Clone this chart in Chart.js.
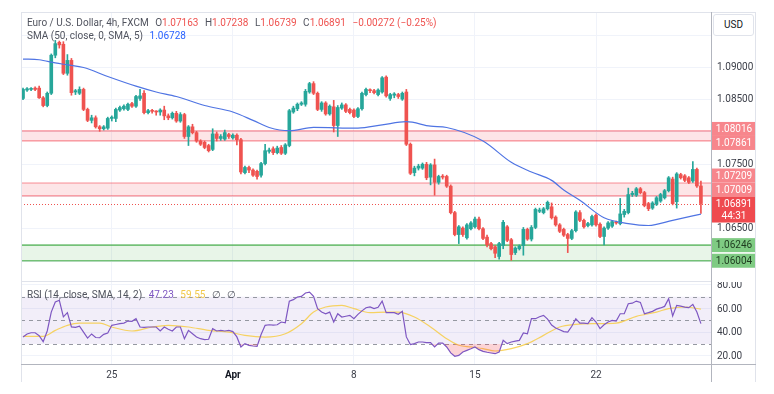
<!DOCTYPE html>
<html lang="en">
<head>
  <meta charset="UTF-8" />
  <title>EUR/USD 4h</title>
  <script src="https://cdn.jsdelivr.net/npm/chart.js"></script>
  <style>
    body {
      margin: 0;
      background: #fff;
      font-family: 'Trebuchet MS', Roboto, sans-serif;
    }
    #wrap { position: relative; width: 774px; height: 394px; overflow: hidden; }
    canvas { position: absolute; left: 0; }
    #cMain { top: 0; }
    #cRsi { top: 266px; }
    .ln { position: absolute; background: #e0e3eb; }
    .dark { background: #b2b5be; }
    .legend {
      position: absolute;
      left: 27px;
      font-size: 10px;
      line-height: 12px;
      color: #50535e;
      white-space: nowrap;
    }
    .legend span { margin-left: 4px; }
    .neg { color: #ef5350; }
    .blue { color: #2962ff; }
    .purple { color: #7e57c2; }
    .yellow { color: #f2c94c; }
    #usd {
      position: absolute;
      left: 713px; top: 14px;
      width: 39px; height: 20px;
      border: 1px solid #e0e3eb;
      border-radius: 3px;
      font-size: 10px;
      line-height: 20px;
      text-align: center;
      color: #131722;
      background: #fff;
    }
    #rsiAxis {
      position: absolute;
      left: 712px; top: 282px;
      width: 43px; height: 82px;
      overflow: hidden;
    }
    #rsiAxis div {
      position: absolute;
      left: 5px;
      font-size: 10px;
      line-height: 12px;
      color: #3b3e48;
    }
  </style>
</head>
<body>
<div id="wrap">
  <canvas id="cMain" width="774" height="281"></canvas>
  <canvas id="cRsi" width="774" height="128"></canvas>

  <!-- frame -->
  <div class="ln" style="left:21px; top:12px; width:734px; height:1px;"></div>
  <div class="ln" style="left:21px; top:12px; width:1px; height:370px;"></div>
  <div class="ln" style="left:755px; top:12px; width:1px; height:370px;"></div>
  <div class="ln" style="left:21px; top:281px; width:690px; height:1px;"></div>
  <div class="ln dark" style="left:711px; top:12px; width:1px; height:370px;"></div>
  <div class="ln dark" style="left:21px; top:364px; width:735px; height:1px;"></div>

  <div id="usd">USD</div>
  <div id="rsiAxis"></div>

  <div class="legend" style="top:17px;">Euro / U.S. Dollar, 4h, FXCM
    <span>O<b class="neg" style="font-weight:normal">1.07163</b></span>
    <span>H<b class="neg" style="font-weight:normal">1.07238</b></span>
    <span>L<b class="neg" style="font-weight:normal">1.06739</b></span>
    <span>C<b class="neg" style="font-weight:normal">1.06891</b></span>
    <span class="neg">−0.00272 (−0.25%)</span>
  </div>
  <div class="legend" style="top:30px;">SMA (50, close, 0, SMA, 5) <span class="blue">1.06728</span></div>
  <div class="legend" style="top:289px;">RSI (14, close, SMA, 14, 2) <span class="purple">47.23</span> <span class="yellow">59.55</span> <span>∅</span> <span>∅</span></div>
</div>

<script>
  // ---- data (EUR/USD 4h candles) ----
  const opens = [
    1.0852,1.0865,1.0866,1.0868,1.0868,1.0853,1.0841,1.0860,1.0919,1.0939,
    1.0936,1.0891,1.0911,1.0862,1.0860,1.0866,1.0835,1.0818,1.0822,1.0808,
    1.0805,1.0806,1.0821,1.0821,1.0834,1.0836,1.0835,1.0844,1.0840,1.0852,
    1.0860,1.0830,1.0833,1.0832,1.0831,1.0834,1.0825,1.0822,1.0829,1.0817,
    1.0827,1.0793,1.0808,1.0799,1.0786,1.0784,1.0779,1.0773,1.0797,1.0790,
    1.0789,1.0796,1.0791,1.0795,1.0788,1.0737,1.0745,1.0741,1.0739,1.0733,
    1.0751,1.0770,1.0774,1.0768,1.0776,1.0767,1.0779,1.0831,1.0836,1.0843,
    1.0843,1.0862,1.0875,1.0860,1.0835,1.0845,1.0828,1.0839,1.0810,1.0837,
    1.0842,1.0835,1.0834,1.0824,1.0836,1.0858,1.0865,1.0864,1.0858,1.0862,
    1.0885,1.0852,1.0857,1.0858,1.0851,1.0862,1.0781,1.0737,1.0744,1.0744,
    1.0750,1.0730,1.0749,1.0722,1.0731,1.0731,1.0716,1.0675,1.0641,1.0651,
    1.0636,1.0650,1.0653,1.0665,1.0650,1.0637,1.0627,1.0622,1.0607,1.0624,
    1.0653,1.0633,1.0613,1.0619,1.0624,1.0649,1.0634,1.0652,1.0677,1.0675,
    1.0681,1.0684,1.0668,1.0656,1.0649,1.0641,1.0635,1.0647,1.0675,1.0663,
    1.0655,1.0656,1.0671,1.0657,1.0638,1.0651,1.0654,1.0660,1.0658,1.0672,
    1.0675,1.0703,1.0702,1.0712,1.0706,1.0689,1.0682,1.0688,1.0693,1.0698,
    1.0709,1.0727,1.0692,1.0734,1.0732,1.0729,1.0724,1.0742,1.07163
  ];
  const highs = [
    1.0868,1.0869,1.0869,1.0870,1.0871,1.0855,1.0862,1.0921,1.0942,1.0941,
    1.0940,1.0920,1.0914,1.0866,1.0870,1.0868,1.0837,1.0826,1.0825,1.0810,
    1.0810,1.0823,1.0825,1.0837,1.0840,1.0842,1.0845,1.0846,1.0857,1.0866,
    1.0864,1.0835,1.0835,1.0833,1.0836,1.0840,1.0828,1.0831,1.0832,1.0830,
    1.0829,1.0810,1.0812,1.0801,1.0788,1.0786,1.0781,1.0805,1.0800,1.0796,
    1.0803,1.0798,1.0797,1.0797,1.0790,1.0747,1.0747,1.0743,1.0741,1.0753,
    1.0781,1.0775,1.0777,1.0778,1.0779,1.0782,1.0835,1.0840,1.0845,1.0847,
    1.0866,1.0877,1.0878,1.0862,1.0847,1.0847,1.0842,1.0849,1.0841,1.0845,
    1.0844,1.0837,1.0836,1.0838,1.0862,1.0868,1.0867,1.0866,1.0867,1.0886,
    1.0887,1.0860,1.0861,1.0860,1.0862,1.0866,1.0783,1.0747,1.0750,1.0752,
    1.0753,1.0751,1.0758,1.0733,1.0734,1.0733,1.0718,1.0677,1.0655,1.0653,
    1.0658,1.0661,1.0668,1.0668,1.0652,1.0640,1.0629,1.0624,1.0629,1.0663,
    1.0655,1.0635,1.0622,1.0625,1.0652,1.0651,1.0655,1.0682,1.0682,1.0683,
    1.0693,1.0690,1.0670,1.0658,1.0651,1.0643,1.0649,1.0678,1.0678,1.0665,
    1.0660,1.0671,1.0673,1.0659,1.0653,1.0661,1.0663,1.0662,1.0697,1.0680,
    1.0713,1.0708,1.0714,1.0714,1.0708,1.0691,1.0692,1.0700,1.0705,1.0711,
    1.0731,1.0730,1.0737,1.0736,1.0734,1.0731,1.0754,1.0744,1.07238
  ];
  const lows = [
    1.0850,1.0863,1.0864,1.0864,1.0852,1.0839,1.0839,1.0858,1.0915,1.0930,
    1.0889,1.0888,1.0857,1.0858,1.0858,1.0833,1.0816,1.0814,1.0806,1.0801,
    1.0803,1.0804,1.0817,1.0816,1.0832,1.0834,1.0833,1.0838,1.0838,1.0849,
    1.0828,1.0828,1.0829,1.0826,1.0826,1.0819,1.0819,1.0820,1.0815,1.0815,
    1.0790,1.0779,1.0797,1.0784,1.0779,1.0774,1.0769,1.0771,1.0786,1.0787,
    1.0787,1.0790,1.0789,1.0780,1.0735,1.0735,1.0737,1.0731,1.0727,1.0730,
    1.0749,1.0767,1.0765,1.0766,1.0765,1.0765,1.0777,1.0829,1.0833,1.0841,
    1.0840,1.0860,1.0858,1.0833,1.0832,1.0826,1.0826,1.0800,1.0793,1.0835,
    1.0830,1.0828,1.0822,1.0822,1.0834,1.0856,1.0861,1.0859,1.0856,1.0860,
    1.0854,1.0849,1.0853,1.0852,1.0849,1.0779,1.0734,1.0732,1.0741,1.0742,
    1.0726,1.0718,1.0702,1.0719,1.0727,1.0714,1.0673,1.0639,1.0627,1.0638,
    1.0634,1.0648,1.0651,1.0648,1.0633,1.0622,1.0617,1.0605,1.0603,1.0619,
    1.0630,1.0601,1.0610,1.0617,1.0609,1.0632,1.0631,1.0650,1.0675,1.0673,
    1.0679,1.0665,1.0654,1.0644,1.0638,1.0613,1.0633,1.0645,1.0661,1.0651,
    1.0653,1.0654,1.0654,1.0636,1.0625,1.0649,1.0652,1.0657,1.0656,1.0668,
    1.0673,1.0700,1.0700,1.0704,1.0684,1.0678,1.0680,1.0686,1.0691,1.0696,
    1.0707,1.0687,1.0682,1.0727,1.0723,1.0720,1.0722,1.0714,1.06739
  ];
  const closes = [
    1.0866,1.0867,1.0867,1.0866,1.0853,1.0841,1.0860,1.0919,1.0937,1.0935,
    1.0891,1.0911,1.0861,1.0864,1.0866,1.0835,1.0818,1.0822,1.0808,1.0805,
    1.0808,1.0821,1.0823,1.0835,1.0838,1.0840,1.0843,1.0840,1.0855,1.0856,
    1.0830,1.0833,1.0832,1.0831,1.0834,1.0825,1.0822,1.0829,1.0817,1.0827,
    1.0793,1.0808,1.0799,1.0786,1.0781,1.0776,1.0771,1.0797,1.0790,1.0793,
    1.0799,1.0793,1.0795,1.0788,1.0738,1.0745,1.0741,1.0733,1.0731,1.0751,
    1.0771,1.0772,1.0768,1.0775,1.0767,1.0780,1.0833,1.0837,1.0843,1.0845,
    1.0863,1.0875,1.0860,1.0835,1.0845,1.0828,1.0840,1.0810,1.0838,1.0842,
    1.0832,1.0830,1.0824,1.0836,1.0860,1.0866,1.0864,1.0861,1.0865,1.0884,
    1.0856,1.0858,1.0859,1.0855,1.0860,1.0781,1.0736,1.0744,1.0747,1.0750,
    1.0729,1.0749,1.0722,1.0731,1.0730,1.0716,1.0675,1.0641,1.0653,1.0641,
    1.0656,1.0659,1.0665,1.0650,1.0635,1.0625,1.0619,1.0612,1.0627,1.0660,
    1.0632,1.0610,1.0620,1.0623,1.0649,1.0634,1.0652,1.0680,1.0679,1.0681,
    1.0691,1.0667,1.0656,1.0646,1.0640,1.0635,1.0647,1.0676,1.0663,1.0653,
    1.0658,1.0669,1.0656,1.0638,1.0651,1.0659,1.0661,1.0659,1.0673,1.0677,
    1.0703,1.0705,1.0712,1.0706,1.0686,1.0681,1.0690,1.0698,1.0703,1.0709,
    1.0729,1.0689,1.0735,1.0729,1.0725,1.0722,1.0742,1.07163,1.06891
  ];

  // SMA 50 read at a few bars
  const smaIdx = [0,4,8,11,15,21,28,33,38,45,52,57,61,66,72,83,89,95,101,105,114,121,126,131,134,138,144,150,155,161,168];
  const smaVal = [1.0913,1.0912,1.0907,1.0904,1.0900,1.0886,1.0871,1.0862,1.0855,1.0841,1.0831,1.0818,1.0807,1.0802,1.0807,1.0806,1.0811,1.0816,1.0809,1.0807,1.0786,1.0753,1.0738,1.0725,1.0710,1.0694,1.0667,1.0658,1.0655,1.0663,1.06728];

  // RSI 14, one value per bar
  const rsi = [
    36,38.5,39.5,39.5,37,32,41,57,65.5,67,
    53,56.5,44.5,44,45,40,35,38.5,35.5,35.3,
    38.2,39.3,45.8,46.5,47.2,47.7,49.4,49.2,51.4,44.4,
    44.1,44.4,44.4,44.4,41,44.4,42.5,41,44.4,44.4,
    34.5,41.5,38.7,35.9,34.5,33.7,34,43,41,41.5,
    41,41.5,40.5,36,27.5,30.3,28.9,28.3,28,38,
    45.8,46.3,46,46.3,48.6,48,66.3,67.5,69.7,70.3,
    73.1,73.9,70.3,59.9,57,55.6,57,48.6,55.6,52.8,
    53.5,54.2,51.4,55.1,58,60.7,61.3,59.9,61,66.3,
    56.5,56.5,56.5,55.1,57.6,36,29.5,30.3,31.7,31.7,
    31.1,31.1,27.5,30.8,30.8,27.5,22.5,19.6,20.4,23.2,
    24.6,26,27.5,25.2,23.8,23,22.4,21.8,23.2,33.1,
    30.3,31.7,32.5,33.1,39.3,38.7,51.4,51.4,53,54.2,
    51,46,43.5,42.1,40.5,40.1,45,51.4,47.7,47.7,
    47.2,52.3,48.6,43,46.3,48.6,50,49.4,55.6,55.6,
    64.1,64.5,66.3,65.2,55.6,56.5,57.6,59.5,60.5,61.8,
    68.3,53.7,62.7,62.1,61.2,60.7,63.5,57,47.23
  ];
  // RSI-based MA read at a few bars
  const rsiMaIdx = [0,5,8,11,14,19,22,27,32,36,41,46,51,55,60,65,69,72,75,79,82,86,90,93,97,101,105,108,111,114,117,121,125,129,133,137,142,147,152,157,160,164,168];
  const rsiMaVal = [36.5,36.5,41.5,45.8,47.7,47.7,44.4,41,44.4,45.8,44.4,41.5,40.1,37.3,35.9,38.7,47.2,57,61.3,62.7,59.9,56.5,57,57,52.8,44.4,34.5,28.9,27.5,26.1,24.1,26.1,30.3,37.3,44.4,46.6,47.2,47.7,53.4,57,59.9,61.3,59.55];
  const rsiLevels = [70, 50, 30];

  // drawn zones
  const zoneLo = [1.07861, 1.07009, 1.06004];
  const zoneHi = [1.08016, 1.07209, 1.06246];
  const zoneKind = ['res', 'res', 'sup'];
  const countdown = '44:31';

  // axes
  const tickIdx = [22, 52, 82, 112, 142];
  const tickText = ['25', 'Apr', '8', '15', '22'];
  const priceTicks = [1.06, 1.065, 1.07, 1.075, 1.08, 1.085, 1.09, 1.095];
  const rsiTicks = [20, 40, 60, 80];

  // ---- styles ----
  const UP = '#26a69a', DOWN = '#ef5350';
  const GRID = '#f0f3fa';
  const TXT = '#3b3e48';
  const FONT = "'Trebuchet MS', Roboto, sans-serif";
  Chart.defaults.font.family = FONT;
  Chart.defaults.font.size = 10;
  Chart.defaults.color = TXT;

  const lastClose = closes[closes.length - 1];
  const candleColors = closes.map((c, i) => c >= opens[i] ? UP : DOWN);
  const xMax = closes.length + 1.5;

  // right price scale: fixed width, no extra room for the end labels
  const fitRight = s => {
    s.width = 63;
    s.paddingTop = 0;
    s.paddingBottom = 0;
  };

  const xShared = {
    type: 'linear',
    min: -0.5,
    max: xMax,
    offset: false,
    afterBuildTicks: s => { s.ticks = tickIdx.map(v => ({ value: v })); },
    grid: { color: GRID, drawTicks: false, offset: false },
    border: { display: false }
  };

  const zones = {
    id: 'zones',
    beforeDatasetsDraw(chart) {
      const { ctx, chartArea: a, scales: { y } } = chart;
      ctx.save();
      zoneLo.forEach((lo, k) => {
        const sup = zoneKind[k] === 'sup';
        const y1 = y.getPixelForValue(zoneHi[k]);
        const y2 = y.getPixelForValue(lo);
        ctx.fillStyle = sup ? 'rgba(76,175,80,0.13)' : 'rgba(242,54,69,0.13)';
        ctx.fillRect(a.left, y1, a.right - a.left, y2 - y1);
        ctx.strokeStyle = sup ? 'rgba(76,175,80,0.75)' : 'rgba(242,54,69,0.55)';
        ctx.lineWidth = sup ? 1.6 : 1.2;
        [y1, y2].forEach(yy => {
          ctx.beginPath();
          ctx.moveTo(a.left, yy);
          ctx.lineTo(a.right, yy);
          ctx.stroke();
        });
      });
      const yc = Math.round(y.getPixelForValue(lastClose)) + 0.5;
      ctx.setLineDash([1, 2]);
      ctx.strokeStyle = '#ef5350';
      ctx.lineWidth = 1;
      ctx.beginPath();
      ctx.moveTo(a.left, yc);
      ctx.lineTo(a.right, yc);
      ctx.stroke();
      ctx.restore();
    }
  };

  // coloured labels on the price scale, pushed apart so they don't overlap
  const priceLabels = {
    id: 'priceLabels',
    afterDraw(chart) {
      const { ctx, chartArea: a, scales: { y } } = chart;
      const items = [];
      zoneHi.forEach((v, k) => items.push({ v, kind: zoneKind[k] }));
      zoneLo.forEach((v, k) => items.push({ v, kind: zoneKind[k] }));
      items.push({ v: lastClose, kind: 'cur' });
      items.forEach(it => {
        it.y = y.getPixelForValue(it.v);
        it.up = 7;
        it.dn = it.kind === 'cur' ? 19 : 7;
      });
      items.sort((p, q) => p.y - q.y);
      for (let pass = 0; pass < 20; pass++) {
        for (let k = 0; k < items.length - 1; k++) {
          const p = items[k], q = items[k + 1];
          const ov = (p.y + p.dn) - (q.y - q.up);
          if (ov > 0) {
            if (p.kind === 'cur') q.y += ov;
            else if (q.kind === 'cur') p.y -= ov;
            else { p.y -= ov / 2; q.y += ov / 2; }
          }
        }
      }
      ctx.save();
      ctx.font = '10px ' + FONT;
      ctx.textAlign = 'center';
      ctx.textBaseline = 'middle';
      const x0 = a.right + 1, w = 44, cx = x0 + w / 2;
      items.forEach(it => {
        let bg = '#f7868c', fg = '#fff';
        if (it.kind === 'sup') { bg = '#7fcb83'; fg = '#1e3b1f'; }
        if (it.kind === 'cur') bg = '#ef4a4f';
        ctx.fillStyle = bg;
        ctx.fillRect(x0, it.y - it.up, w, it.up + it.dn);
        ctx.fillStyle = fg;
        ctx.fillText(it.v.toFixed(5), cx, it.y + 0.5);
        if (it.kind === 'cur') ctx.fillText(countdown, cx, it.y + 12.5);
      });
      ctx.restore();
    }
  };

  new Chart(document.getElementById('cMain'), {
    type: 'bar',
    data: {
      datasets: [
        {
          type: 'line',
          data: smaIdx.map((x, k) => ({ x, y: smaVal[k] })),
          borderColor: '#4f74e3',
          borderWidth: 1.2,
          pointRadius: 0,
          cubicInterpolationMode: 'monotone',
          order: 0
        },
        {
          data: closes.map((c, i) => ({ x: i, y: [opens[i], c] })),
          backgroundColor: candleColors,
          barThickness: 3,
          minBarLength: 1,
          grouped: false,
          order: 1
        },
        {
          data: closes.map((c, i) => ({ x: i, y: [lows[i], highs[i]] })),
          backgroundColor: candleColors,
          barThickness: 1,
          grouped: false,
          order: 2
        }
      ]
    },
    options: {
      responsive: false,
      animation: false,
      layout: { padding: { left: 21, top: 12, right: 0, bottom: 0 } },
      plugins: { legend: { display: false }, tooltip: { enabled: false } },
      scales: {
        x: Object.assign({}, xShared, {
          ticks: { display: false },
          afterFit: s => { s.height = 0; s.paddingLeft = 0; s.paddingRight = 0; }
        }),
        y: {
          position: 'right',
          min: 1.0569,
          max: 1.0986,
          afterBuildTicks: s => { s.ticks = priceTicks.map(v => ({ value: v })); },
          afterFit: fitRight,
          grid: { color: GRID, drawTicks: false },
          border: { display: false },
          ticks: {
            padding: 6,
            autoSkip: false,
            color: TXT,
            callback: v => {
              const near = zoneLo.concat(zoneHi, [lastClose]).some(l => Math.abs(l - v) < 0.0012);
              return (near || v > 1.093) ? '' : v.toFixed(5);
            }
          }
        }
      }
    },
    plugins: [zones, priceLabels]
  });

  const rsiBand = {
    id: 'rsiBand',
    beforeDatasetsDraw(chart) {
      const { ctx, chartArea: a, scales: { y } } = chart;
      const yTop = y.getPixelForValue(rsiLevels[0]);
      const yBot = y.getPixelForValue(rsiLevels[2]);
      ctx.save();
      ctx.fillStyle = 'rgba(126,87,194,0.1)';
      ctx.fillRect(a.left, yTop, a.right - a.left, yBot - yTop);
      ctx.setLineDash([4, 4]);
      ctx.strokeStyle = '#9598a1';
      ctx.lineWidth = 1;
      rsiLevels.forEach(l => {
        const yy = Math.round(y.getPixelForValue(l)) + 0.5;
        ctx.beginPath();
        ctx.moveTo(a.left, yy);
        ctx.lineTo(a.right, yy);
        ctx.stroke();
      });
      ctx.restore();
    }
  };

  const rsiChart = new Chart(document.getElementById('cRsi'), {
    type: 'line',
    data: {
      datasets: [
        {
          data: rsi.map((v, i) => ({ x: i, y: v })),
          borderColor: '#7e57c2',
          borderWidth: 1.2,
          pointRadius: 0,
          tension: 0,
          fill: { target: { value: 30 }, above: 'rgba(0,0,0,0)', below: 'rgba(242,54,69,0.22)' }
        },
        {
          data: rsiMaIdx.map((x, k) => ({ x, y: rsiMaVal[k] })),
          borderColor: 'rgba(247,205,70,0.85)',
          borderWidth: 1.2,
          pointRadius: 0,
          cubicInterpolationMode: 'monotone'
        }
      ]
    },
    options: {
      responsive: false,
      animation: false,
      layout: { padding: { left: 21, top: 15, right: 0, bottom: 14 } },
      plugins: { legend: { display: false }, tooltip: { enabled: false } },
      scales: {
        x: Object.assign({}, xShared, {
          afterFit: s => { s.height = 16; s.paddingLeft = 0; s.paddingRight = 0; },
          ticks: {
            padding: 5,
            autoSkip: false,
            maxRotation: 0,
            color: ctx => ctx.tick && ctx.tick.label === 'Apr' ? '#131722' : TXT,
            font: ctx => ({ family: FONT, size: 10, weight: ctx.tick && ctx.tick.label === 'Apr' ? 'bold' : 'normal' }),
            callback: v => tickText[tickIdx.indexOf(v)]
          }
        }),
        y: {
          position: 'right',
          min: 13.09,
          max: 83.28,
          afterBuildTicks: s => { s.ticks = rsiTicks.map(v => ({ value: v })); },
          afterFit: fitRight,
          grid: { color: GRID, drawTicks: false },
          border: { display: false },
          ticks: { display: false }
        }
      }
    },
    plugins: [rsiBand]
  });

  // RSI scale labels as text, placed with the chart's own scale; the box clips at the pane edge
  const rsiAxis = document.getElementById('rsiAxis');
  const rsiCanvasTop = document.getElementById('cRsi').offsetTop;
  rsiTicks.forEach(v => {
    const d = document.createElement('div');
    d.textContent = v.toFixed(2);
    const yAbs = rsiCanvasTop + rsiChart.scales.y.getPixelForValue(v);
    d.style.top = (yAbs - rsiAxis.offsetTop - 6) + 'px';
    rsiAxis.appendChild(d);
  });
</script>
</body>
</html>
